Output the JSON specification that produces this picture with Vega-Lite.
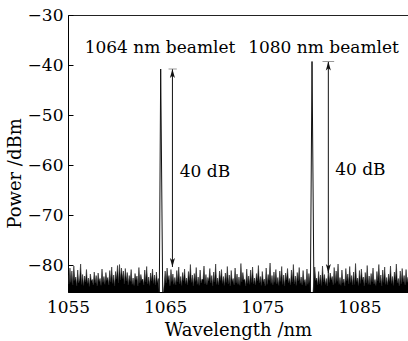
{
  "$schema": "https://vega.github.io/schema/vega-lite/v6.json",
  "width": 340,
  "height": 277,
  "autosize": {"type": "none"},
  "padding": {"left": 68, "top": 15, "right": 0, "bottom": 49},
  "background": "white",
  "config": {
    "view": {"stroke": "#222", "strokeWidth": 1},
    "font": "DejaVu Serif",
    "axis": {
      "grid": false,
      "domainColor": "#000",
      "tickColor": "#000",
      "labelFont": "DejaVu Serif",
      "labelFontSize": 17,
      "labelColor": "#000",
      "titleFont": "DejaVu Serif",
      "titleFontSize": 18,
      "titleFontWeight": "normal",
      "titleColor": "#000"
    }
  },
  "datasets": {
    "noise": [
      {"w":1055.0,"p":-82.0},{"w":1055.1,"p":-83.8},{"w":1055.2,"p":-80.6},{"w":1055.3,"p":-83.5},{"w":1055.4,"p":-81.2},{"w":1055.5,"p":-84.0},{"w":1055.6,"p":-80.2},{"w":1055.7,"p":-83.1},{"w":1055.8,"p":-82.4},{"w":1055.9,"p":-84.2},
      {"w":1056.0,"p":-81.0},{"w":1056.1,"p":-83.6},{"w":1056.2,"p":-82.8},{"w":1056.3,"p":-79.8},{"w":1056.4,"p":-83.9},{"w":1056.5,"p":-81.9},{"w":1056.6,"p":-84.1},{"w":1056.7,"p":-82.2},{"w":1056.8,"p":-83.4},{"w":1056.9,"p":-80.9},
      {"w":1057.0,"p":-83.7},{"w":1057.1,"p":-82.6},{"w":1057.2,"p":-84.3},{"w":1057.3,"p":-81.8},{"w":1057.4,"p":-83.2},{"w":1057.5,"p":-82.9},{"w":1057.6,"p":-84.0},{"w":1057.7,"p":-81.4},{"w":1057.8,"p":-83.6},{"w":1057.9,"p":-82.1},
      {"w":1058.0,"p":-84.2},{"w":1058.1,"p":-81.6},{"w":1058.2,"p":-83.3},{"w":1058.3,"p":-82.7},{"w":1058.4,"p":-84.1},{"w":1058.5,"p":-80.8},{"w":1058.6,"p":-83.5},{"w":1058.7,"p":-82.3},{"w":1058.8,"p":-83.9},{"w":1058.9,"p":-81.5},
      {"w":1059.0,"p":-83.1},{"w":1059.1,"p":-82.5},{"w":1059.2,"p":-84.0},{"w":1059.3,"p":-81.1},{"w":1059.4,"p":-83.4},{"w":1059.5,"p":-80.4},{"w":1059.6,"p":-83.7},{"w":1059.7,"p":-82.0},{"w":1059.8,"p":-84.2},{"w":1059.9,"p":-81.3},
      {"w":1060.0,"p":-82.8},{"w":1060.1,"p":-80.1},{"w":1060.2,"p":-83.6},{"w":1060.3,"p":-79.9},{"w":1060.4,"p":-83.0},{"w":1060.5,"p":-80.6},{"w":1060.6,"p":-82.7},{"w":1060.7,"p":-81.2},{"w":1060.8,"p":-83.8},{"w":1060.9,"p":-80.7},
      {"w":1061.0,"p":-83.2},{"w":1061.1,"p":-81.5},{"w":1061.2,"p":-84.0},{"w":1061.3,"p":-82.1},{"w":1061.4,"p":-83.3},{"w":1061.5,"p":-80.9},{"w":1061.6,"p":-83.9},{"w":1061.7,"p":-82.6},{"w":1061.8,"p":-84.1},{"w":1061.9,"p":-81.7},
      {"w":1062.0,"p":-83.0},{"w":1062.1,"p":-82.2},{"w":1062.2,"p":-84.2},{"w":1062.3,"p":-80.5},{"w":1062.4,"p":-83.6},{"w":1062.5,"p":-81.9},{"w":1062.6,"p":-83.1},{"w":1062.7,"p":-82.8},{"w":1062.8,"p":-84.0},{"w":1062.9,"p":-81.0},
      {"w":1063.0,"p":-83.4},{"w":1063.1,"p":-80.3},{"w":1063.2,"p":-83.8},{"w":1063.3,"p":-82.4},{"w":1063.4,"p":-84.1},{"w":1063.5,"p":-81.6},{"w":1063.6,"p":-83.2},{"w":1063.7,"p":-80.8},{"w":1063.8,"p":-83.7},{"w":1063.9,"p":-82.0},
      {"w":1064.0,"p":-84.0},{"w":1064.1,"p":-81.4},{"w":1064.2,"p":-83.5},{"w":1064.3,"p":-82.7},{"w":1064.4,"p":-86},{"w":1064.5,"p":-86},{"w":1064.6,"p":-86},{"w":1064.7,"p":-86},{"w":1064.8,"p":-86},{"w":1064.9,"p":-83.9},
      {"w":1065.0,"p":-81.2},{"w":1065.1,"p":-83.6},{"w":1065.2,"p":-80.6},{"w":1065.3,"p":-83.0},{"w":1065.4,"p":-82.1},{"w":1065.5,"p":-84.2},{"w":1065.6,"p":-80.9},{"w":1065.7,"p":-83.3},{"w":1065.8,"p":-81.8},{"w":1065.9,"p":-83.9},
      {"w":1066.0,"p":-82.5},{"w":1066.1,"p":-84.0},{"w":1066.2,"p":-81.1},{"w":1066.3,"p":-83.4},{"w":1066.4,"p":-80.4},{"w":1066.5,"p":-83.8},{"w":1066.6,"p":-82.3},{"w":1066.7,"p":-84.1},{"w":1066.8,"p":-81.5},{"w":1066.9,"p":-83.2},
      {"w":1067.0,"p":-80.8},{"w":1067.1,"p":-83.7},{"w":1067.2,"p":-82.6},{"w":1067.3,"p":-84.0},{"w":1067.4,"p":-81.3},{"w":1067.5,"p":-83.1},{"w":1067.6,"p":-79.9},{"w":1067.7,"p":-83.5},{"w":1067.8,"p":-82.0},{"w":1067.9,"p":-84.2},
      {"w":1068.0,"p":-81.7},{"w":1068.1,"p":-83.3},{"w":1068.2,"p":-80.5},{"w":1068.3,"p":-83.9},{"w":1068.4,"p":-82.4},{"w":1068.5,"p":-84.1},{"w":1068.6,"p":-81.0},{"w":1068.7,"p":-83.6},{"w":1068.8,"p":-82.8},{"w":1068.9,"p":-83.0},
      {"w":1069.0,"p":-80.2},{"w":1069.1,"p":-83.8},{"w":1069.2,"p":-81.9},{"w":1069.3,"p":-84.0},{"w":1069.4,"p":-82.5},{"w":1069.5,"p":-83.2},{"w":1069.6,"p":-80.7},{"w":1069.7,"p":-83.6},{"w":1069.8,"p":-82.1},{"w":1069.9,"p":-84.2},
      {"w":1070.0,"p":-81.4},{"w":1070.1,"p":-83.4},{"w":1070.2,"p":-79.8},{"w":1070.3,"p":-83.9},{"w":1070.4,"p":-82.6},{"w":1070.5,"p":-84.0},{"w":1070.6,"p":-81.2},{"w":1070.7,"p":-83.1},{"w":1070.8,"p":-80.9},{"w":1070.9,"p":-83.7},
      {"w":1071.0,"p":-82.3},{"w":1071.1,"p":-84.1},{"w":1071.2,"p":-81.6},{"w":1071.3,"p":-83.5},{"w":1071.4,"p":-80.3},{"w":1071.5,"p":-83.8},{"w":1071.6,"p":-82.0},{"w":1071.7,"p":-84.2},{"w":1071.8,"p":-81.1},{"w":1071.9,"p":-83.3},
      {"w":1072.0,"p":-82.7},{"w":1072.1,"p":-84.0},{"w":1072.2,"p":-80.6},{"w":1072.3,"p":-83.6},{"w":1072.4,"p":-81.8},{"w":1072.5,"p":-83.9},{"w":1072.6,"p":-82.4},{"w":1072.7,"p":-84.1},{"w":1072.8,"p":-79.7},{"w":1072.9,"p":-83.4},
      {"w":1073.0,"p":-81.5},{"w":1073.1,"p":-83.0},{"w":1073.2,"p":-82.9},{"w":1073.3,"p":-84.2},{"w":1073.4,"p":-80.8},{"w":1073.5,"p":-83.7},{"w":1073.6,"p":-82.2},{"w":1073.7,"p":-83.9},{"w":1073.8,"p":-81.0},{"w":1073.9,"p":-83.5},
      {"w":1074.0,"p":-80.4},{"w":1074.1,"p":-83.8},{"w":1074.2,"p":-82.6},{"w":1074.3,"p":-84.0},{"w":1074.4,"p":-81.7},{"w":1074.5,"p":-83.2},{"w":1074.6,"p":-80.1},{"w":1074.7,"p":-83.6},{"w":1074.8,"p":-82.3},{"w":1074.9,"p":-84.1},
      {"w":1075.0,"p":-81.3},{"w":1075.1,"p":-83.4},{"w":1075.2,"p":-82.8},{"w":1075.3,"p":-84.2},{"w":1075.4,"p":-80.6},{"w":1075.5,"p":-83.9},{"w":1075.6,"p":-81.9},{"w":1075.7,"p":-83.1},{"w":1075.8,"p":-79.6},{"w":1075.9,"p":-83.7},
      {"w":1076.0,"p":-82.1},{"w":1076.1,"p":-84.0},{"w":1076.2,"p":-81.4},{"w":1076.3,"p":-83.5},{"w":1076.4,"p":-80.9},{"w":1076.5,"p":-83.8},{"w":1076.6,"p":-82.5},{"w":1076.7,"p":-84.1},{"w":1076.8,"p":-81.2},{"w":1076.9,"p":-83.3},
      {"w":1077.0,"p":-80.3},{"w":1077.1,"p":-83.9},{"w":1077.2,"p":-82.0},{"w":1077.3,"p":-84.2},{"w":1077.4,"p":-81.6},{"w":1077.5,"p":-83.0},{"w":1077.6,"p":-80.7},{"w":1077.7,"p":-83.6},{"w":1077.8,"p":-82.7},{"w":1077.9,"p":-84.0},
      {"w":1078.0,"p":-81.0},{"w":1078.1,"p":-83.4},{"w":1078.2,"p":-79.9},{"w":1078.3,"p":-83.8},{"w":1078.4,"p":-82.2},{"w":1078.5,"p":-84.1},{"w":1078.6,"p":-81.5},{"w":1078.7,"p":-83.2},{"w":1078.8,"p":-80.5},{"w":1078.9,"p":-83.7},
      {"w":1079.0,"p":-82.4},{"w":1079.1,"p":-84.0},{"w":1079.2,"p":-81.1},{"w":1079.3,"p":-83.5},{"w":1079.4,"p":-82.9},{"w":1079.5,"p":-84.2},{"w":1079.6,"p":-80.8},{"w":1079.7,"p":-83.9},{"w":1079.8,"p":-81.7},{"w":1079.9,"p":-83.3},
      {"w":1080.0,"p":-86},{"w":1080.1,"p":-86},{"w":1080.2,"p":-86},{"w":1080.3,"p":-83.6},{"w":1080.4,"p":-80.4},{"w":1080.5,"p":-83.1},{"w":1080.6,"p":-82.6},{"w":1080.7,"p":-84.0},{"w":1080.8,"p":-81.3},{"w":1080.9,"p":-83.8},
      {"w":1081.0,"p":-82.0},{"w":1081.1,"p":-84.1},{"w":1081.2,"p":-80.2},{"w":1081.3,"p":-83.4},{"w":1081.4,"p":-81.9},{"w":1081.5,"p":-83.9},{"w":1081.6,"p":-82.7},{"w":1081.7,"p":-84.2},{"w":1081.8,"p":-80.9},{"w":1081.9,"p":-83.5},
      {"w":1082.0,"p":-81.6},{"w":1082.1,"p":-83.0},{"w":1082.2,"p":-82.3},{"w":1082.3,"p":-84.0},{"w":1082.4,"p":-80.5},{"w":1082.5,"p":-83.7},{"w":1082.6,"p":-81.2},{"w":1082.7,"p":-83.3},{"w":1082.8,"p":-79.8},{"w":1082.9,"p":-83.9},
      {"w":1083.0,"p":-82.5},{"w":1083.1,"p":-84.1},{"w":1083.2,"p":-81.0},{"w":1083.3,"p":-83.6},{"w":1083.4,"p":-82.8},{"w":1083.5,"p":-84.2},{"w":1083.6,"p":-80.7},{"w":1083.7,"p":-83.2},{"w":1083.8,"p":-81.8},{"w":1083.9,"p":-83.8},
      {"w":1084.0,"p":-80.3},{"w":1084.1,"p":-83.5},{"w":1084.2,"p":-82.1},{"w":1084.3,"p":-84.0},{"w":1084.4,"p":-81.4},{"w":1084.5,"p":-83.9},{"w":1084.6,"p":-79.7},{"w":1084.7,"p":-83.3},{"w":1084.8,"p":-82.6},{"w":1084.9,"p":-84.1},
      {"w":1085.0,"p":-81.1},{"w":1085.1,"p":-83.7},{"w":1085.2,"p":-80.8},{"w":1085.3,"p":-83.0},{"w":1085.4,"p":-82.4},{"w":1085.5,"p":-84.2},{"w":1085.6,"p":-81.5},{"w":1085.7,"p":-83.6},{"w":1085.8,"p":-80.1},{"w":1085.9,"p":-83.9},
      {"w":1086.0,"p":-82.2},{"w":1086.1,"p":-84.0},{"w":1086.2,"p":-81.7},{"w":1086.3,"p":-83.4},{"w":1086.4,"p":-80.6},{"w":1086.5,"p":-83.8},{"w":1086.6,"p":-82.9},{"w":1086.7,"p":-84.1},{"w":1086.8,"p":-81.3},{"w":1086.9,"p":-83.2},
      {"w":1087.0,"p":-79.9},{"w":1087.1,"p":-83.6},{"w":1087.2,"p":-82.0},{"w":1087.3,"p":-84.2},{"w":1087.4,"p":-81.0},{"w":1087.5,"p":-83.5},{"w":1087.6,"p":-80.4},{"w":1087.7,"p":-83.9},{"w":1087.8,"p":-82.5},{"w":1087.9,"p":-84.0},
      {"w":1088.0,"p":-81.8},{"w":1088.1,"p":-83.3},{"w":1088.2,"p":-80.2},{"w":1088.3,"p":-83.7},{"w":1088.4,"p":-82.3},{"w":1088.5,"p":-84.1},{"w":1088.6,"p":-81.4},{"w":1088.7,"p":-83.0},{"w":1088.8,"p":-79.8},{"w":1088.9,"p":-83.6},
      {"w":1089.0,"p":-82.7},{"w":1089.1,"p":-84.2},{"w":1089.2,"p":-81.2},{"w":1089.3,"p":-83.8},{"w":1089.4,"p":-80.7},{"w":1089.5,"p":-83.4},{"w":1089.6,"p":-82.1},{"w":1089.7,"p":-84.0},{"w":1089.8,"p":-80.9},{"w":1089.9,"p":-83.5},
      {"w":1090.0,"p":-82.4}
    ],
    "peaks": [
      {"id":"a","w":1064.40,"p":-86},{"id":"a","w":1064.54,"p":-40.8},{"id":"a","w":1064.75,"p":-86},
      {"id":"b","w":1079.95,"p":-86},{"id":"b","w":1080.12,"p":-39.3},{"id":"b","w":1080.32,"p":-86}
    ],
    "arrows": [
      {"w":1065.75,"top":-40.8,"bot":-80.4,"c1":1065.35,"c2":1066.2},
      {"w":1081.8,"top":-39.3,"bot":-81.6,"c1":1081.2,"c2":1082.4}
    ],
    "titles": [
      {"w":1064.47,"p":-36.6,"t":"1064 nm beamlet"},
      {"w":1081.3,"p":-36.6,"t":"1080 nm beamlet"}
    ],
    "db": [
      {"w":1066.5,"p":-61.3,"t":"40 dB"},
      {"w":1082.5,"p":-61.0,"t":"40 dB"}
    ]
  },
  "layer": [
    {
      "data": {"name": "noise"},
      "mark": {"type": "area", "color": "#000", "clip": true, "interpolate": "linear"},
      "encoding": {
        "x": {"field": "w", "type": "quantitative", "scale": {"domain": [1055, 1090], "nice": false, "zero": false},
              "axis": {"values": [1055, 1065, 1075, 1085], "title": "Wavelength /nm", "ticks": false, "labelPadding": 7, "labelFlush": false, "titlePadding": 6, "format": "d"}},
        "y": {"field": "p", "type": "quantitative", "scale": {"domain": [-85.4, -30], "nice": false, "zero": false},
              "axis": {"values": [-80, -70, -60, -50, -40, -30], "title": "Power /dBm", "tickSize": -5, "labelPadding": 10, "titlePadding": 3, "titleY": 158}},
        "y2": {"datum": -85.4}
      }
    },
    {
      "data": {"name": "noise"},
      "mark": {"type": "line", "color": "#222", "strokeWidth": 0.6, "clip": true},
      "encoding": {
        "x": {"field": "w", "type": "quantitative"},
        "y": {"field": "p", "type": "quantitative"}
      }
    },
    {
      "data": {"name": "peaks"},
      "mark": {"type": "line", "color": "#111", "strokeWidth": 1, "clip": true},
      "encoding": {
        "x": {"field": "w", "type": "quantitative"},
        "y": {"field": "p", "type": "quantitative"},
        "detail": {"field": "id"},
        "order": {"field": "w"}
      }
    },
    {
      "data": {"name": "arrows"},
      "mark": {"type": "rule", "color": "#111", "strokeWidth": 1},
      "encoding": {
        "x": {"field": "w", "type": "quantitative"},
        "y": {"field": "top", "type": "quantitative"},
        "y2": {"field": "bot"}
      }
    },
    {
      "data": {"name": "arrows"},
      "mark": {"type": "rule", "color": "#999", "strokeWidth": 1},
      "encoding": {
        "x": {"field": "c1", "type": "quantitative"},
        "x2": {"field": "c2"},
        "y": {"field": "top", "type": "quantitative"}
      }
    },
    {
      "data": {"name": "arrows"},
      "mark": {"type": "point", "shape": "M0,0L-0.28,1L0,0.75L0.28,1Z", "size": 324, "filled": true, "color": "#111", "opacity": 1},
      "encoding": {
        "x": {"field": "w", "type": "quantitative"},
        "y": {"field": "top", "type": "quantitative"}
      }
    },
    {
      "data": {"name": "arrows"},
      "mark": {"type": "point", "shape": "M0,0L-0.28,-1L0,-0.75L0.28,-1Z", "size": 324, "filled": true, "color": "#111", "opacity": 1},
      "encoding": {
        "x": {"field": "w", "type": "quantitative"},
        "y": {"field": "bot", "type": "quantitative"}
      }
    },
    {
      "data": {"name": "titles"},
      "mark": {"type": "text", "font": "DejaVu Serif", "fontSize": 17, "align": "center", "baseline": "middle", "color": "#000"},
      "encoding": {
        "x": {"field": "w", "type": "quantitative"},
        "y": {"field": "p", "type": "quantitative"},
        "text": {"field": "t"}
      }
    },
    {
      "data": {"name": "db"},
      "mark": {"type": "text", "font": "DejaVu Serif", "fontSize": 17, "align": "left", "baseline": "middle", "color": "#000"},
      "encoding": {
        "x": {"field": "w", "type": "quantitative"},
        "y": {"field": "p", "type": "quantitative"},
        "text": {"field": "t"}
      }
    }
  ]
}
